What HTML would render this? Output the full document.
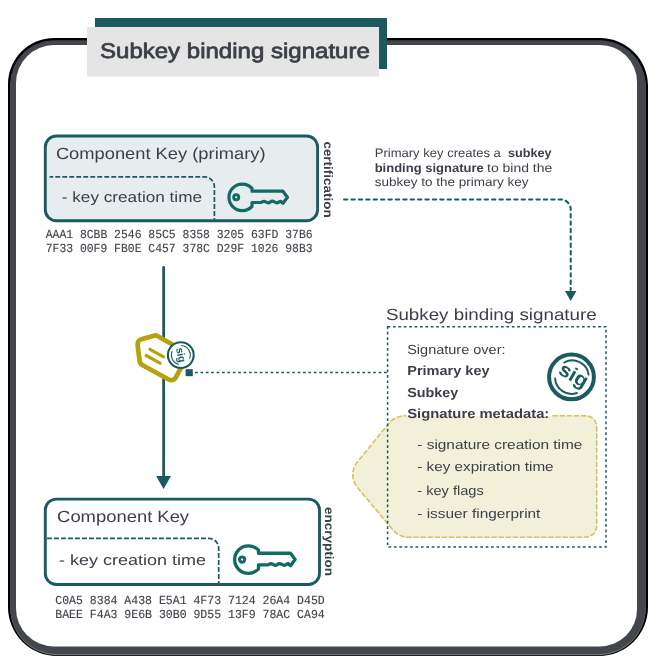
<!DOCTYPE html>
<html>
<head>
<meta charset="utf-8">
<title>Subkey binding signature</title>
<style>
  html, body { margin: 0; padding: 0; background: #ffffff; }
  body { width: 657px; height: 667px; overflow: hidden; position: relative; }
  svg { display: block; position: absolute; left: 0; top: 0; will-change: transform; }
  text { font-family: "Liberation Sans", sans-serif; fill: #3b3f48; text-rendering: geometricPrecision; }
  .mono { font-family: "Liberation Mono", monospace; fill: #43464d; stroke: #43464d; stroke-width: 0.15px; }
  .b { font-weight: bold; }
</style>
</head>
<body>
<svg width="657" height="667" viewBox="0 0 657 667">
  <!-- outer frame -->
  <path d="M 54 38 H 600 A 48 48 0 0 1 648 86 V 607 A 49 49 0 0 1 599 656 H 57 A 49 49 0 0 1 8 607 V 84 A 46 46 0 0 1 54 38 Z" fill="#000000"/>
  <path d="M 54.3 41.3 H 599.7 A 46 46 0 0 1 645.7 87.3 V 608.2 A 47 47 0 0 1 598.7 655.2 H 57.3 A 47 47 0 0 1 10.3 608.2 V 85.3 A 44 44 0 0 1 54.3 41.3 Z" fill="#808080"/>
  <path d="M 54.3 40.3 H 599.7 A 46 46 0 0 1 645.7 86.3 V 607.2 A 47 47 0 0 1 598.7 654.2 H 57.3 A 47 47 0 0 1 10.3 607.2 V 84.3 A 44 44 0 0 1 54.3 40.3 Z" fill="#43464d"/>
  <path d="M 54 45 H 600 A 37 37 0 0 1 637 82 V 609.4 A 37 37 0 0 1 600 646.4 H 54 A 38 38 0 0 1 16 608.4 V 83 A 38 38 0 0 1 54 45 Z" fill="#ffffff"/>

  <!-- title tab -->
  <rect x="95" y="18" width="292" height="51" fill="#1a5b62"/>
  <rect x="87" y="27" width="292" height="49.5" fill="#e5e5e5"/>
  <text x="100" y="57.7" font-size="21.2" textLength="269.8" lengthAdjust="spacingAndGlyphs" style="stroke:#3b3f48;stroke-width:0.75px;stroke-linejoin:round">Subkey binding signature</text>

  <!-- primary component key box -->
  <rect x="45.3" y="136" width="272.3" height="84.7" rx="11" ry="11" fill="#e7ecee" stroke="#1a5b62" stroke-width="2.9"/>
  <path d="M 49.6 176.8 H 204.4 A 10 10 0 0 1 214.4 186.8 V 219.6" fill="none" stroke="#1a5b62" stroke-width="1.7" stroke-dasharray="4.9 2.1" stroke-dashoffset="1.3"/>
  <text x="55.9" y="158.9" font-size="16.3" textLength="209.6" lengthAdjust="spacingAndGlyphs">Component Key (primary)</text>
  <text x="61.8" y="202.3" font-size="14.9" textLength="140.2" lengthAdjust="spacingAndGlyphs">- key creation time</text>
  <text class="mono" x="45.7" y="237.5" font-size="12.3" textLength="266.9" lengthAdjust="spacingAndGlyphs" xml:space="preserve">AAA1 8CBB 2546 85C5 8358 3205 63FD 37B6</text>
  <text class="mono" x="45.7" y="251.7" font-size="12.3" textLength="266.9" lengthAdjust="spacingAndGlyphs" xml:space="preserve">7F33 00F9 FB0E C457 378C D29F 1026 98B3</text>
  <text class="b" font-size="12.3" transform="translate(323.6 141.4) rotate(90)" textLength="76.3" lengthAdjust="spacingAndGlyphs">certification</text>

  <!-- key icon (primary) -->
  <g id="keyicon" fill="none" stroke="#126a62" stroke-width="3.2" stroke-linejoin="round" stroke-linecap="butt">
    <path d="M 252 188.3 A 13.3 13.3 0 1 0 252 206.4 L 252 202.5 L 261 202.5 Q 263.6 200.4 266 202 T 270.3 202 T 274.6 202 T 278.9 202 T 281.6 202.3 L 283 203.3 L 287.4 197.3 L 282.9 191.2 L 252 191.2 Z"/>
    <circle cx="236.2" cy="197.3" r="2.55" stroke-width="2.9"/>
  </g>

  <!-- dashed arrow from primary key to signature -->
  <path d="M 344 199.5 H 560.7 A 10 10 0 0 1 570.7 209.5 V 290" fill="none" stroke="#1a5b62" stroke-width="2" stroke-linecap="round" stroke-dasharray="3.4 4"/>
  <path d="M 565 291 H 576.4 L 570.7 301 Z" fill="#1a5b62"/>

  <!-- description text -->
  <text font-size="12.2" x="374.7" y="156.9" textLength="126.2" lengthAdjust="spacingAndGlyphs">Primary key creates a</text>
  <text class="b" font-size="12.2" x="508.0" y="156.9" textLength="43.6" lengthAdjust="spacingAndGlyphs">subkey</text>
  <text class="b" font-size="12.2" x="374.7" y="171.5" textLength="109.0" lengthAdjust="spacingAndGlyphs">binding signature</text>
  <text font-size="12.2" x="487.0" y="171.5" textLength="65.2" lengthAdjust="spacingAndGlyphs">to bind the</text>
  <text font-size="12.2" x="374.7" y="186.1" textLength="153.8" lengthAdjust="spacingAndGlyphs">subkey to the primary key</text>

  <!-- vertical arrow primary -> subkey -->
  <path d="M 163.65 267.4 V 477" fill="none" stroke="#1a5b62" stroke-width="2.8" stroke-linecap="round"/>
  <path d="M 156.1 476 H 171 L 163.55 489 Z" fill="#1a5b62"/>

  <!-- tag icon -->
  <path d="M 137.57 344.86 A 5.2 5.2 0 0 1 141.33 339.19 L 153.91 335.68 A 5.2 5.2 0 0 1 157.88 336.17 L 184.26 351.22 A 5.2 5.2 0 0 1 186.25 358.23 L 175.71 377.51 A 5.2 5.2 0 0 1 168.63 379.56 L 142.30 364.98 A 5.2 5.2 0 0 1 139.66 361.09 Z" fill="#ffffff" stroke="#b8a10e" stroke-width="4.7" stroke-linejoin="round"/>
  <path d="M 150 349.3 L 163.5 356.9 M 146.2 355.5 L 160 363.2" fill="none" stroke="#b8a10e" stroke-width="3.2" stroke-linecap="round"/>
  <!-- small sig icon -->
  <circle cx="180.8" cy="355.1" r="12.9" fill="#ffffff" stroke="#1a5b62" stroke-width="2.1"/>
  <path d="M 181.3 345.6 A 9.5 9.5 0 0 1 189.7 358.35 M 178.34 364.28 A 9.5 9.5 0 0 1 172.06 351.39" fill="none" stroke="#1a5b62" stroke-width="1.05" stroke-linecap="round"/>
  <text class="b" font-size="10.6" style="fill:#1a5b62" transform="translate(175.9 348.4) rotate(78)" textLength="15" lengthAdjust="spacingAndGlyphs">sig</text>
  <rect x="185.6" y="369.2" width="7.2" height="7" fill="#1a5b62"/>
  <path d="M 195 372.6 H 387.6" fill="none" stroke="#1a5b62" stroke-width="1.5" stroke-dasharray="2.7 2.7"/>

  <!-- subkey binding signature box -->
  <text x="385.9" y="319.6" font-size="16.3" textLength="210.8" lengthAdjust="spacingAndGlyphs">Subkey binding signature</text>

  <!-- metadata bubble -->
  <path d="M 405 415.7 H 583.7 Q 596.7 415.7 596.7 428.7 V 524.2 Q 596.7 537.2 583.7 537.2 H 408 Q 398 537.2 390.6 527.1 L 357 487 Q 348.5 474.4 357 462.4 L 389.4 422.8 Q 396 415.7 405 415.7 Z" fill="#f3f0da" stroke="none"/>
  <path d="M 552.4 415.7 H 583.7 Q 596.7 415.7 596.7 428.7 V 524.2 Q 596.7 537.2 583.7 537.2 H 408 Q 398 537.2 390.6 527.1 L 357 487 Q 348.5 474.4 357 462.4 L 389.4 422.8 Q 396 415.7 406 415.7" fill="none" stroke="#d3c25c" stroke-width="1.6" stroke-dasharray="5.4 1.7"/>
  <rect x="387.6" y="326.7" width="218.4" height="220.2" fill="none" stroke="#1a5b62" stroke-width="1.5" stroke-dasharray="2.7 2.7"/>

  <text x="407.2" y="354.1" font-size="13.2" textLength="98.3" lengthAdjust="spacingAndGlyphs">Signature over:</text>
  <text class="b" x="407.2" y="374.9" font-size="13.2" textLength="82.4" lengthAdjust="spacingAndGlyphs">Primary key</text>
  <text class="b" x="407.2" y="396.6" font-size="13.2" textLength="51.0" lengthAdjust="spacingAndGlyphs">Subkey</text>
  <text class="b" x="407.2" y="418.1" font-size="13.2" textLength="142.1" lengthAdjust="spacingAndGlyphs">Signature metadata:</text>
  <text x="417.3" y="448.6" font-size="13.2" textLength="165.1" lengthAdjust="spacingAndGlyphs">- signature creation time</text>
  <text x="417.3" y="471.4" font-size="13.2" textLength="136.3" lengthAdjust="spacingAndGlyphs">- key expiration time</text>
  <text x="417.3" y="494.7" font-size="13.2" textLength="66.5" lengthAdjust="spacingAndGlyphs">- key flags</text>
  <text x="417.3" y="518.2" font-size="13.2" textLength="123.1" lengthAdjust="spacingAndGlyphs">- issuer fingerprint</text>

  <!-- big sig icon -->
  <circle cx="571.5" cy="376.9" r="22.4" fill="#ffffff" stroke="#1a5b62" stroke-width="4"/>
  <path d="M 564.2 362.5 A 16.5 16.5 0 0 1 588.6 374.7 M 555.1 378.4 A 16.5 16.5 0 0 0 577 393" fill="none" stroke="#1a5b62" stroke-width="1.9" stroke-linecap="round"/>
  <text class="b" font-size="20" style="fill:#1a5b62" transform="translate(557.2 373.2) rotate(30)" textLength="30.5" lengthAdjust="spacingAndGlyphs">sig</text>

  <!-- subkey component key box -->
  <rect x="45.3" y="499.1" width="274.2" height="85.4" rx="11" ry="11" fill="#ffffff" stroke="#1a5b62" stroke-width="2.9"/>
  <path d="M 47 538.3 H 208.7 A 10 10 0 0 1 218.7 548.3 V 583.3" fill="none" stroke="#1a5b62" stroke-width="1.7" stroke-dasharray="4.9 2.1"/>
  <text x="57.1" y="522" font-size="16.3" textLength="132.0" lengthAdjust="spacingAndGlyphs">Component Key</text>
  <text x="59.1" y="564.9" font-size="14.9" textLength="147.0" lengthAdjust="spacingAndGlyphs">- key creation time</text>
  <text class="mono" x="55.3" y="603.5" font-size="12.3" textLength="269.4" lengthAdjust="spacingAndGlyphs" xml:space="preserve">C0A5 8384 A438 E5A1 4F73 7124 26A4 D45D</text>
  <text class="mono" x="55.3" y="617.5" font-size="12.3" textLength="269.4" lengthAdjust="spacingAndGlyphs" xml:space="preserve">BAEE F4A3 9E6B 30B0 9D55 13F9 78AC CA94</text>
  <text class="b" font-size="12.3" transform="translate(324.9 507) rotate(90)" textLength="69" lengthAdjust="spacingAndGlyphs">encryption</text>
  <use href="#keyicon" transform="translate(265.05 559.6) scale(1.035) translate(-258.35 -197.35)"/>
</svg>
</body>
</html>
